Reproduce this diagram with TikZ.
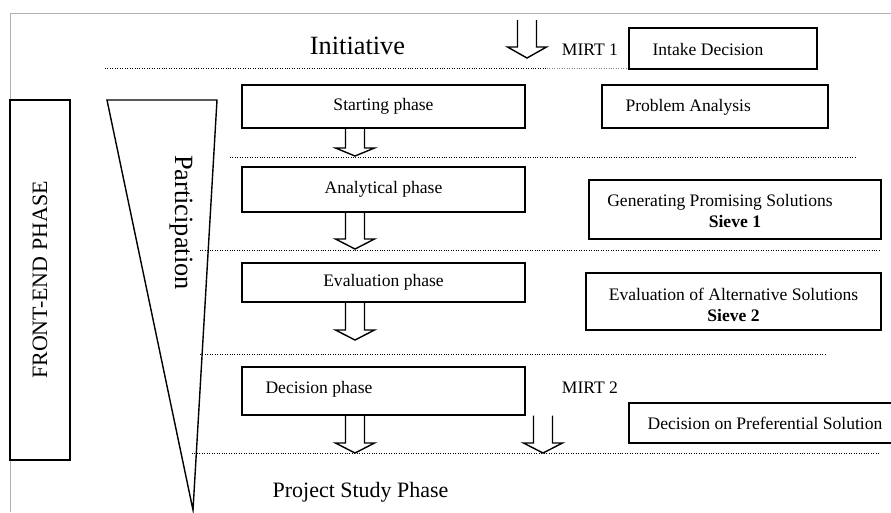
\documentclass[tikz,border=0pt]{standalone}
\usepackage{fontspec}
\setmainfont{Liberation Serif}
\usetikzlibrary{calc,positioning}
\tikzstyle{phasebox}=[draw, thick, minimum width=5.66cm, inner sep=0pt]
\tikzstyle{infobox}=[draw, thick, inner sep=0pt]
\tikzstyle{phaseline}=[densely dotted]
\newcommand{\blockArrow}[3][10]{
	\draw[thick] ($#2+(-9.5,0)$) -- ($#3+(-9.5,-#1)$) -- ($#3+(-19.5,-#1)$) -- #3 -- ($#3+(19.5,-#1)$) -- ($#3+(9.5,-#1)$) -- ($#2+(9.5,0)$);
}

\begin{document}
\begin{tikzpicture}[x=0.02cm, y=-0.02cm]
	\useasboundingbox (0,0) rectangle (891,512);
	\draw[gray!60] (10,512) -- (10,13) -- (891,13);
	% left side
	\node[draw, thick, rotate=90, minimum width=7.2cm, minimum height=1.2cm] (frontend) at (40,280) {\fontsize{12.5}{15}\selectfont FRONT-END PHASE};
	\draw[thick] (107,100) -- (217,100) -- (193,510) -- cycle;
	\node[rotate=-90] (particip) at (181,222.5) {\fontsize{15}{18}\selectfont Participation};
	% separators
	\draw[phaseline] (105,68) -- (547,68);
	\draw[phaseline, gray] (547,68) -- (730,68);
	\draw[phaseline] (230,157) -- (857,157);
	\draw[phaseline] (200,250) -- (880,250);
	\draw[phaseline] (200,354) -- (827,354);
	\draw[phaseline] (192,453) -- (880,453);
	% titles
	\node[anchor=base] (initiative) at (357.5,54) {\fontsize{15}{18}\selectfont Initiative};
	\node[anchor=base] (projstudy) at (360.5,497.5) {\fontsize{12.5}{15}\selectfont Project Study Phase};
	% phases
	\node[phasebox, minimum height=0.86cm] (start) at (383.5,106.5) {Starting phase};
	\node[phasebox, minimum height=0.9cm] (analyse) at (383.5,189.5) {Analytical phase};
	\node[phasebox, minimum height=0.78cm] (evaluate) at (383.5,282.5) {Evaluation phase};
	\node[phasebox, minimum height=0.96cm] (decide) at (383.5,391) {};
	\node[anchor=base west] (decidetext) at ($(decide.west)+(18,2)$) {Decision phase};
	% products
	\node[infobox, minimum width=3.76cm, minimum height=0.82cm] (intake) at (723,48.5) {};
	\node[anchor=base west] (intaketext) at ($(intake.west)+(18,6.5)$) {Intake Decision};
	\node[anchor=base] (mirt1) at (590,55) {MIRT 1};
	\node[infobox, minimum width=4.52cm, minimum height=0.86cm] (problem) at (715,106.5) {};
	\node[anchor=base west] (problemtext) at ($(problem.west)+(18,4.5)$) {Problem Analysis};
	\node[infobox, minimum width=5.84cm, minimum height=1.18cm] (generate) at (735,209.5) {};
	\node[align=center] (generatetext) at ($(generate.center)+(-15,1.5)$) {Generating Promising Solutions\\\hspace*{1.7em}\textbf{Sieve 1}};
	\node[infobox, minimum width=5.9cm, minimum height=1.14cm] (altern) at (733.5,301.5) {};
	\node[align=center] (alterntext) at ($(altern.center)+(0,3.5)$) {Evaluation of Alternative Solutions\\\textbf{Sieve 2}};
	\node[anchor=base] (mirt2) at (590,393) {MIRT 2};
	\node[infobox, minimum width=5.44cm, minimum height=0.8cm] (prefer) at (765,423) {Decision on Preferential Solution};
	% arrows
	\coordinate (a0top) at (527,20);
	\coordinate (a0) at (527,58);
	\coordinate (a1) at (355,156);
	\coordinate (a2) at (355,249);
	\coordinate (a3) at (355,340);
	\coordinate (a4) at (355,453);
	\coordinate (a5) at (543,453);
	\blockArrow[11]{(a0top)}{(a0)}
	\blockArrow[8]{(start.south -| a1)}{(a1)}
	\blockArrow{(analyse.south -| a2)}{(a2)}
	\blockArrow{(evaluate.south -| a3)}{(a3)}
	\blockArrow{(decide.south -| a4)}{(a4)}
	\blockArrow{(decide.south -| a5)}{(a5)}
\end{tikzpicture}
\end{document}
